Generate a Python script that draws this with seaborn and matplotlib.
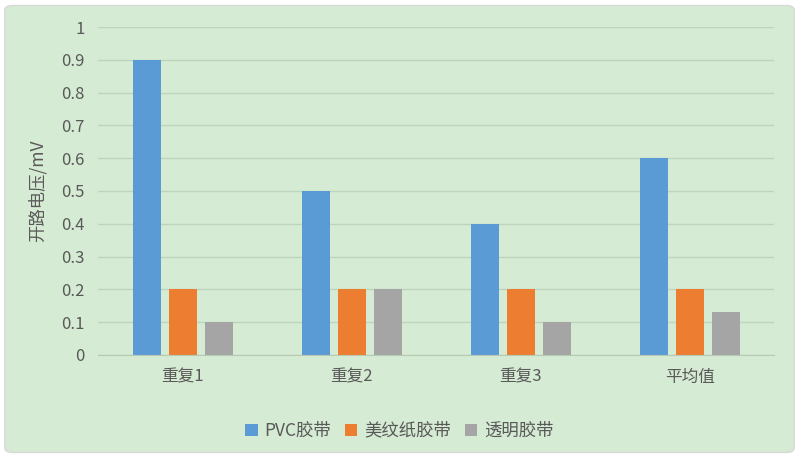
import matplotlib
matplotlib.use('Agg')
import matplotlib.pyplot as plt
import pandas as pd
import seaborn as sns
from matplotlib.patches import FancyBboxPatch

# data
categories = ['重复1', '重复2', '重复3', '平均值']
pvc = [0.9, 0.5, 0.4, 0.6]
masking = [0.2, 0.2, 0.2, 0.2]
clear = [0.1, 0.2, 0.1, 0.13]
series = ['PVC胶带', '美纹纸胶带', '透明胶带']

df = pd.DataFrame({'组': categories * 3,
                   '胶带': [s for s in series for _ in categories],
                   'v': pvc + masking + clear})

sns.set_style('white')
plt.rcParams['font.family'] = ['Noto Sans CJK SC', 'DejaVu Sans']

bg = '#d5ebd3'
txt = '#595959'
colors = ['#5b9bd5', '#ed7d31', '#a5a5a5']

fig = plt.figure(figsize=(7.99, 4.58), dpi=100, facecolor='white')
fig.patches.append(FancyBboxPatch((0.006, 0.012), 0.988, 0.976, boxstyle='round,pad=0,rounding_size=0.01',
                                  transform=fig.transFigure, facecolor=bg, edgecolor='#d9d9d9', lw=1, zorder=-10))
ax = fig.add_axes([0.123, 0.225, 0.846, 0.716])
ax.set_facecolor(bg)

sns.barplot(data=df, x='组', y='v', hue='胶带', hue_order=series, order=categories,
            palette=colors, width=0.64, gap=0.22, saturation=1, linewidth=0, ax=ax, legend=True)

ax.set_ylim(0, 1)
ax.set_yticks([i / 10 for i in range(11)])
ax.set_yticklabels(['0'] + [f'{i/10:g}' for i in range(1, 10)] + ['1'])
ax.yaxis.grid(True, color='#bdd5bc', lw=1)
ax.set_axisbelow(True)
for s in ['top', 'right', 'left']:
    ax.spines[s].set_visible(False)
ax.spines['bottom'].set_color('#b5c9b4')
ax.tick_params(axis='y', length=0, labelsize=12, colors=txt, pad=10)
ax.tick_params(axis='x', length=0, labelsize=12, colors=txt, pad=10)
ax.set_xlabel('')
ax.set_ylabel('开路电压/mV', fontsize=12.5, color=txt, labelpad=10)

ax.legend(loc='upper center', bbox_to_anchor=(0.5, 0.113), bbox_transform=fig.transFigure,
          ncol=3, frameon=False, fontsize=12.5, handlelength=0.7, handleheight=0.7,
          handletextpad=0.4, columnspacing=0.8, labelcolor=txt)

fig.savefig('out.png', dpi=100, facecolor=fig.get_facecolor())
